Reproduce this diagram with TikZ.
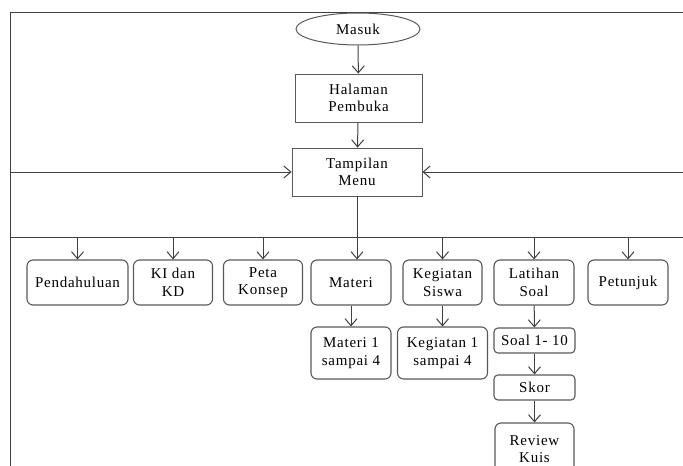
\documentclass[tikz,border=0pt]{standalone}
\usepackage{fontspec}
\setmainfont{Liberation Serif}
\newfontfamily\diafont{Liberation Serif}[LetterSpace=5]
\usetikzlibrary{arrows.meta,shapes.geometric}
\begin{document}
\begin{tikzpicture}[x=1pt,y=-1pt,
  ln/.style={draw=black!75, line width=1pt},
  arr/.style={ln, -{Straight Barb[length=7pt,width=12pt]}},
  txt/.style={align=center, inner sep=1pt, font=\diafont\fontsize{15}{17.5}\selectfont},
  rbox/.style={txt, draw=black!65, line width=1.1pt, rounded corners=6pt},
  sbox/.style={txt, draw=black!65, line width=0.9pt, rectangle},
  oval/.style={txt, draw=black!65, line width=1pt, ellipse, inner sep=0pt}
]
\useasboundingbox (0,0) rectangle (683,466);
% frame
\coordinate (tl) at (10,12);
\coordinate (tr) at (683,12);
\coordinate (bl) at (10,466);
\coordinate (la) at (10,172);
\coordinate (ra) at (683,172);
\coordinate (busL) at (10,237);
\coordinate (busR) at (683,237);
\draw[ln] (tr) -- (tl) -- (bl);
\draw[ln] (busL) -- (busR);
% top chain
\node[oval, minimum width=124pt, minimum height=32pt] (masuk) at (358,29) {Masuk};
\node[sbox, minimum width=127pt, minimum height=48pt] (hal) at (358.5,98) {Halaman\\Pembuka};
\node[sbox, minimum width=130pt, minimum height=48pt] (menu) at (357,172) {Tampilan\\Menu};
\draw[arr] (masuk) -- (hal);
\draw[arr] (hal) -- (menu);
\draw[arr] (la) -- (menu.west);
\draw[arr] (ra) -- (menu.east);
% row 1
\node[rbox, minimum width=101pt, minimum height=45pt] (pend) at (77.5,282.5) {Pendahuluan};
\node[rbox, minimum width=79pt, minimum height=45pt] (ki) at (173,282.5) {KI dan\\KD};
\node[rbox, minimum width=79pt, minimum height=45pt] (peta) at (263,282.5) {Peta\\Konsep};
\node[rbox, minimum width=80pt, minimum height=45pt] (materi) at (351,282.5) {Materi};
\node[rbox, minimum width=79pt, minimum height=45pt] (keg) at (442.5,282.5) {Kegiatan\\Siswa};
\node[rbox, minimum width=80pt, minimum height=45pt] (lat) at (534,282.5) {Latihan\\Soal};
\node[rbox, minimum width=80pt, minimum height=45pt] (pet) at (628,282.5) {Petunjuk};
\draw[arr] (pend.north |- busL) -- (pend.north);
\draw[arr] (ki.north |- busL) -- (ki.north);
\draw[arr] (peta.north |- busL) -- (peta.north);
\draw[arr] (menu.south) -- (menu.south |- materi.north);
\draw[arr] (keg.north |- busL) -- (keg.north);
\draw[arr] (lat.north |- busL) -- (lat.north);
\draw[arr] (pet.north |- busL) -- (pet.north);
% row 2
\node[rbox, minimum width=80pt, minimum height=52pt] (m1) at (351,353) {Materi 1\\sampai 4};
\node[rbox, minimum width=90pt, minimum height=52pt] (k1) at (442.5,353) {Kegiatan 1\\sampai 4};
\node[rbox, minimum width=81pt, minimum height=25pt, rounded corners=4pt] (soal) at (534.5,340.5) {Soal 1- 10};
\node[rbox, minimum width=81pt, minimum height=25pt, rounded corners=4pt] (skor) at (534.5,387.5) {Skor};
\node[rbox, minimum width=79pt, minimum height=52pt] (rev) at (534.5,449) {Review\\Kuis};
\draw[arr] (materi) -- (m1);
\draw[arr] (keg) -- (k1);
\draw[arr] (lat) -- (soal);
\draw[arr] (soal) -- (skor);
\draw[arr] (skor) -- (rev);
\end{tikzpicture}
\end{document}
